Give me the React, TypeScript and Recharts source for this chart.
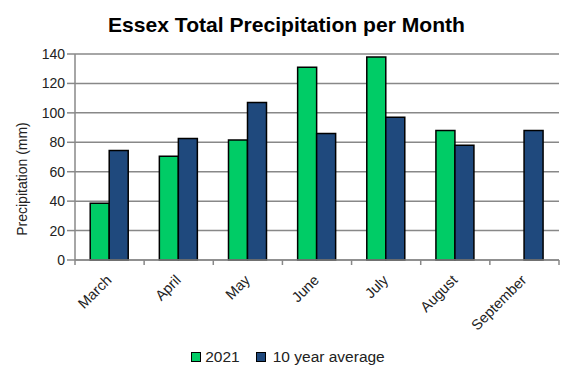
import { BarChart, Bar, CartesianGrid, XAxis, YAxis, Legend } from 'recharts';

const months = ['March', 'April', 'May', 'June', 'July', 'August', 'September'];
const rain2021 = [38.5, 70.5, 81.5, 131, 138, 88, null];
const tenYearAvg = [74.5, 82.5, 107, 86, 97, 78, 88];
const yTicks = [0, 20, 40, 60, 80, 100, 120, 140];

const data = months.map((m, i) => ({ month: m, y2021: rain2021[i], avg: tenYearAvg[i] }));

const W = 574;
const H = 378;
const PLOT_LEFT = 75;
const PLOT_RIGHT = 15;
const BAND = (W - PLOT_LEFT - PLOT_RIGHT) / months.length;
const FONT = '"Liberation Sans", Arial, sans-serif';

const MonthTick = (props: any) => {
    const { x, y, payload, index } = props;
    return (
        <g>
            <line x1={x - BAND / 2} y1={y - 8} x2={x - BAND / 2} y2={y - 3} stroke='#888' strokeWidth={1.5} />
            {index === months.length - 1 &&
                <line x1={x + BAND / 2} y1={y - 8} x2={x + BAND / 2} y2={y - 3} stroke='#888' strokeWidth={1.5} />}
            <text x={x + 3} y={y + 13} textAnchor='end' fontSize={14.5} fill='#222' fontFamily={FONT}
                transform={`rotate(-45, ${x + 3}, ${y + 13})`}>
                {payload.value}
            </text>
        </g>
    );
}

const LegendBox = () => (
    <div style={{ display: 'flex', justifyContent: 'center', fontFamily: FONT, fontSize: 15.5, color: '#222', paddingLeft: 17, paddingTop: 8 }}>
        <span style={{ display: 'flex', alignItems: 'center', marginRight: 16 }}>
            <span style={{ width: 8, height: 8, background: '#00cc66', border: '1px solid #000', marginRight: 4 }} />2021
        </span>
        <span style={{ display: 'flex', alignItems: 'center' }}>
            <span style={{ width: 8, height: 8, background: '#1f497d', border: '1px solid #000', marginRight: 7 }} />10 year average
        </span>
    </div>
);

const YLabel = () => (
    <text x={27} y={179} textAnchor='middle' fontSize={14} fill='#222' fontFamily={FONT}
        transform='rotate(-90, 27, 179)'>
        Precipitation (mm)
    </text>
);

export default function App() {
    return (
        <div style={{ position: 'relative', width: W, height: H, background: '#fff' }}>
            <style>{'body{margin:0}'}</style>
            <svg width={W} height={40} style={{ position: 'absolute', left: 0, top: 0 }}>
                <text x={108} y={32} fontSize={21} fontWeight='bold' fontFamily={FONT} fill='#000'
                    textLength={357} lengthAdjust='spacingAndGlyphs'>
                    Essex Total Precipitation per Month
                </text>
            </svg>
            <BarChart width={W} height={H} data={data} margin={{ top: 54, right: PLOT_RIGHT, bottom: 8, left: 0 }}
                barCategoryGap='22%' barGap={0}>
                <CartesianGrid vertical={false} stroke='#888' strokeWidth={1.5} />
                <XAxis dataKey='month' height={80} tickLine={false} interval={0}
                    axisLine={{ stroke: '#888', strokeWidth: 1.5 }} tick={<MonthTick />} />
                <YAxis width={PLOT_LEFT} domain={[0, 140]} ticks={yTicks} interval={0} tickSize={8}
                    axisLine={{ stroke: '#888', strokeWidth: 1.5 }} tickLine={{ stroke: '#888', strokeWidth: 1.5 }}
                    tick={{ fontSize: 14, fill: '#222', fontFamily: FONT }} label={<YLabel />} />
                <Legend verticalAlign='bottom' height={30} content={<LegendBox />} />
                <Bar dataKey='y2021' name='2021' fill='#00cc66' stroke='#000' strokeWidth={1.5} isAnimationActive={false} />
                <Bar dataKey='avg' name='10 year average' fill='#1f497d' stroke='#000' strokeWidth={1.5} isAnimationActive={false} />
            </BarChart>
        </div>
    );
}
